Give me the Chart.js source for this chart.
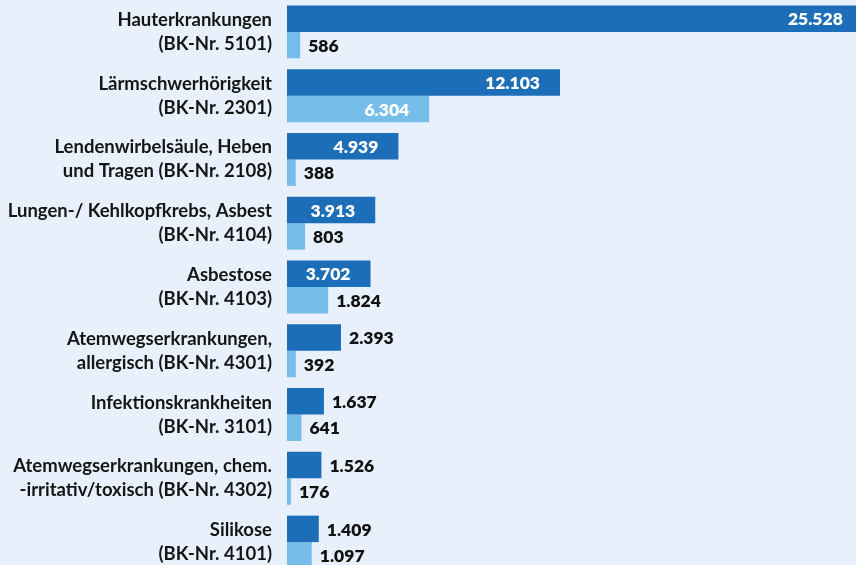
<!DOCTYPE html>
<html>
<head>
<meta charset="utf-8">
<script src="https://cdn.jsdelivr.net/npm/chart.js@4"></script>
<style>
    html, body { margin: 0; padding: 0; background: #e8f1fb; overflow: hidden; }
    #wrap { position: relative; width: 856px; height: 574px; }
</style>
</head>
<body>
<div id="wrap"><canvas id="bkChart"></canvas></div>
<script>
// Berufskrankheiten - categories (two-line labels)
const categories = [
    ['Hauterkrankungen', '(BK-Nr. 5101)'],
    ['Lärmschwerhörigkeit', '(BK-Nr. 2301)'],
    ['Lendenwirbelsäule, Heben', 'und Tragen (BK-Nr. 2108)'],
    ['Lungen-/ Kehlkopfkrebs, Asbest', '(BK-Nr. 4104)'],
    ['Asbestose', '(BK-Nr. 4103)'],
    ['Atemwegserkrankungen,', 'allergisch (BK-Nr. 4301)'],
    ['Infektionskrankheiten', '(BK-Nr. 3101)'],
    ['Atemwegserkrankungen, chem.', '-irritativ/toxisch (BK-Nr. 4302)'],
    ['Silikose', '(BK-Nr. 4101)']
];

// dark bars
const seriesA = [25528, 12103, 4939, 3913, 3702, 2393, 1637, 1526, 1409];
// light bars
const seriesB = [586, 6304, 388, 803, 1824, 392, 641, 176, 1097];

const darkBlue = '#1b6eb7';
const lightBlue = '#77bde9';

function formatDE(n) {
    return String(n).replace(/\B(?=(\d{3})+(?!\d))/g, '.');
}

// value labels: inside (white) when the bar is wide enough, else outside (black)
const valueLabels = {
    id: 'valueLabels',
    afterDatasetsDraw(chart) {
        const ctx = chart.ctx;
        ctx.save();
        ctx.font = '800 17.5px Lato';
        ctx.textBaseline = 'middle';
        chart.data.datasets.forEach((ds, i) => {
            const meta = chart.getDatasetMeta(i);
            meta.data.forEach((bar, j) => {
                const text = formatDE(ds.data[j]);
                const w = ctx.measureText(text).width;
                const barW = bar.x - bar.base;
                if (barW >= w + 30) {
                    ctx.fillStyle = '#ffffff';
                    ctx.textAlign = 'right';
                    ctx.fillText(text, bar.x - 20, bar.y + 1);
                } else {
                    ctx.fillStyle = '#111111';
                    ctx.textAlign = 'left';
                    ctx.fillText(text, bar.x + 8, bar.y + 1);
                }
            });
        });
        ctx.restore();
    }
};

new Chart(document.getElementById('bkChart'), {
    type: 'bar',
    data: {
        labels: categories,
        datasets: [{
            data: seriesA,
            backgroundColor: darkBlue,
            borderWidth: 0,
            barPercentage: 1.0,
            categoryPercentage: 0.83
        }, {
            data: seriesB,
            backgroundColor: lightBlue,
            borderWidth: 0,
            barPercentage: 1.0,
            categoryPercentage: 0.83
        }]
    },
    options: {
        indexAxis: 'y',
        responsive: true,
        maintainAspectRatio: false,
        animation: false,
        layout: { padding: 0 },
        plugins: {
            legend: { display: false },
            tooltip: { enabled: false }
        },
        scales: {
            x: {
                display: false,
                min: 0,
                max: 25226
            },
            y: {
                afterFit: function(scale) {
                    scale.width = 287;
                    scale.paddingTop = 0;
                    scale.paddingBottom = 0;
                },
                grid: { display: false, drawTicks: false },
                border: { display: false },
                ticks: {
                    padding: 15,
                    color: '#151515',
                    font: { family: 'Lato', size: 18.5, weight: 'bold', lineHeight: '24px' }
                }
            }
        }
    },
    plugins: [valueLabels]
});
</script>
</body>
</html>
